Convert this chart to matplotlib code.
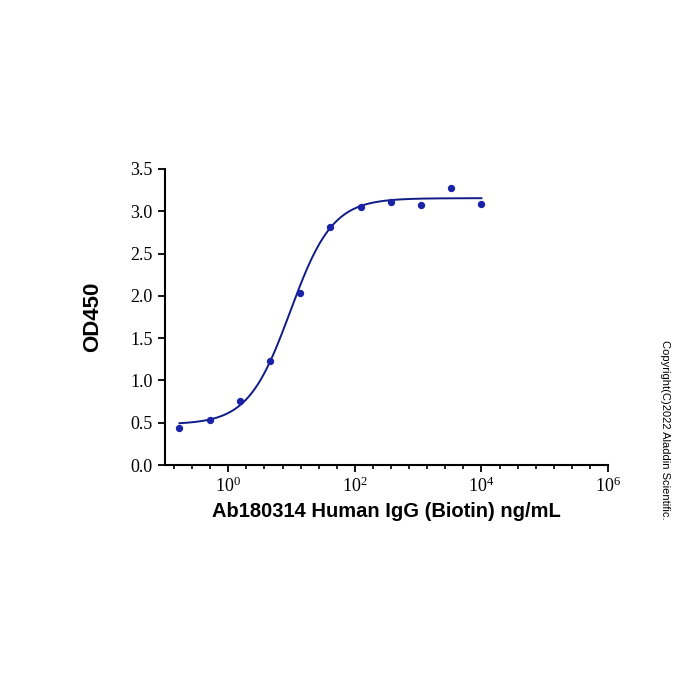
import numpy as np
import matplotlib
matplotlib.use("Agg")
import matplotlib.pyplot as plt
from matplotlib.ticker import FixedLocator, FuncFormatter, NullFormatter

plt.rcParams['mathtext.fontset'] = 'custom'
plt.rcParams['mathtext.rm'] = 'Liberation Serif'

# Data
conc = [0.169, 0.508, 1.524, 4.57, 13.7, 41.2, 123.5, 370.4, 1111, 3333, 10000]
od450 = [0.441, 0.532, 0.756, 1.229, 2.03, 2.82, 3.046, 3.112, 3.073, 3.27, 3.089]

# 4PL fit parameters
bottom, top, log_ec50, hill = 0.48, 3.155, 0.98, 1.3

x_major = [1e0, 1e2, 1e4, 1e6]
y_ticks = [0.0, 0.5, 1.0, 1.5, 2.0, 2.5, 3.0, 3.5]

xlabel = "Ab180314 Human IgG (Biotin) ng/mL"
ylabel = "OD450"
copyright_text = "Copyright(C)2022 Aladdin Scientific."

fig = plt.figure(figsize=(7, 7), dpi=100)
ax = fig.add_axes([165/700, 1-465/700, (608-165)/700, (465-169)/700])

xs = np.logspace(np.log10(conc[0]), np.log10(conc[-1]), 400)
ys = bottom + (top - bottom) / (1 + 10 ** ((log_ec50 - np.log10(xs)) * hill))
ax.plot(xs, ys, color='#101c86', lw=1.4, zorder=2)
ax.scatter(conc, od450, s=28, color='#1a22a8', zorder=3, linewidths=0)

ax.set_xscale('log')
ax.set_xlim(0.1, 1e6)
ax.set_ylim(0, 3.5)

ax.xaxis.set_major_locator(FixedLocator(x_major))
minor = [10 ** (k * 2 / 7) for k in range(-3, 21) if k % 7 != 0]
ax.xaxis.set_minor_locator(FixedLocator(minor))
ax.xaxis.set_minor_formatter(NullFormatter())
ax.xaxis.set_major_formatter(FuncFormatter(
    lambda v, p: r'$\mathregular{10^{%d}}$' % int(round(np.log10(v)))))
ax.set_yticks(y_ticks)
ax.set_yticklabels(['%.1f' % v for v in y_ticks])

for s in ['top', 'right']:
    ax.spines[s].set_visible(False)
for s in ['left', 'bottom']:
    ax.spines[s].set_linewidth(1.5)

ax.tick_params(axis='both', which='major', direction='out', length=5, width=1.3, pad=4)
ax.tick_params(axis='x', which='minor', direction='out', length=3, width=1.2)
ax.tick_params(axis='x', which='major', pad=3)
for lab in ax.get_xticklabels() + ax.get_yticklabels():
    lab.set_fontfamily('Liberation Serif')
    lab.set_fontsize(13)

ax.set_xlabel(xlabel, fontfamily='Liberation Sans', fontweight='bold', fontsize=14.5, labelpad=5)
ax.set_ylabel(ylabel, fontfamily='Liberation Sans', fontweight='bold', fontsize=16, labelpad=19)

fig.text(665/700, 1-430/700, copyright_text, rotation=-90, ha='center', va='center',
         fontfamily='Liberation Sans', fontsize=8)

fig.savefig('out.png', dpi=100)
